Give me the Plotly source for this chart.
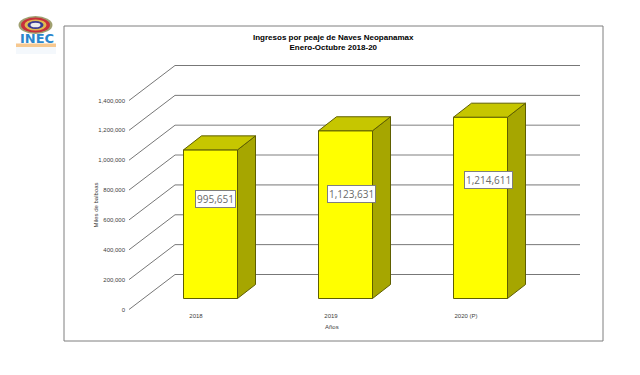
import plotly.graph_objects as go

categories = ["2018", "2019", "2020 (P)"]
values = [995651, 1123631, 1214611]
tick_values = [0, 200000, 400000, 600000, 800000, 1000000, 1200000, 1400000]
title_lines = ["Ingresos por peaje de Naves Neopanamax", "Enero-Octubre 2018-20"]
y_title = "Miles de balboas"
x_title = "Años"
W, H = 640, 375
L, R, T, B = 64, 603, 26, 341   # chart frame in px
X0 = 210.5      # px centre of first bar
XU = 135.0      # px per category
Y0 = 309.5      # px of value 0
YU = 209.0 / 1400000  # px per value unit


def vy(px):
    return (Y0 - px) / YU


def vx(px):
    return (px - X0) / XU


def lx(p):
    return (p - L) / (R - L)


def ly(p):
    return 1 - (p - T) / (B - T)


fig = go.Figure()
dwx, dwy = 46 / XU, 35 / YU     # wall depth
bwx, bwy = 18 / XU, 14 / YU     # bar depth
base = 11 / YU
half = 27 / XU
x_front = vx(129)
x_back = vx(175)
x_end = vx(580)
DARK = "#777777"
LIGHT = "#aaaaaa"
grid_colors = [DARK, DARK, DARK, DARK, LIGHT, LIGHT, DARK, DARK]
grid_widths = [1, 1, 1, 1, 1.6, 1.6, 1, 1]

for t, c, w in zip(tick_values, grid_colors, grid_widths):
    fig.add_trace(go.Scatter(x=[x_front, x_back], y=[t, t + dwy], mode="lines",
                             line=dict(color=DARK, width=1), hoverinfo="skip"))
    fig.add_trace(go.Scatter(x=[x_back, x_end], y=[t + dwy, t + dwy], mode="lines",
                             line=dict(color=c, width=w), hoverinfo="skip"))

EDGE = "#5f5f00"
for i, v in enumerate(values):
    a, b = i - half, i + half
    lo, hi = base, v + base
    fig.add_trace(go.Scatter(x=[a, b, b, a, a], y=[lo, lo, hi, hi, lo], mode="lines", fill="toself",
                             fillcolor="#ffff00", line=dict(color=EDGE, width=1), hoverinfo="skip"))
    fig.add_trace(go.Scatter(x=[b, b + bwx, b + bwx, b, b], y=[lo, lo + bwy, hi + bwy, hi, lo], mode="lines",
                             fill="toself", fillcolor="#a6a600", line=dict(color=EDGE, width=1), hoverinfo="skip"))
    fig.add_trace(go.Scatter(x=[a, b, b + bwx, a + bwx, a], y=[hi, hi, hi + bwy, hi + bwy, hi], mode="lines",
                             fill="toself", fillcolor="#c6c600", line=dict(color=EDGE, width=1), hoverinfo="skip"))

label_dx = [5, 6, 7.5]
label_fy = [0.672, 0.623, 0.654]
ann = []
for i, v in enumerate(values):
    ann.append(dict(x=i, y=v * label_fy[i] + base, xshift=label_dx[i], text=f"{v:,}", showarrow=False,
                    xanchor="center", yanchor="middle",
                    font=dict(family="Open Sans, DejaVu Sans", size=10, color="#6a6a6a"), bgcolor="#ffffff",
                    bordercolor="#7f7f7f", borderwidth=1, borderpad=1))
ann.append(dict(xref="paper", yref="paper", x=lx(333.5), y=ly(42), text="<b>" + "<br>".join(title_lines) + "</b>",
                showarrow=False, xanchor="center", yanchor="middle",
                font=dict(family="Liberation Sans, Arial", size=8, color="#000000")))
ann.append(dict(xref="paper", yref="paper", x=lx(95.5), y=ly(205), text=y_title, textangle=-90, showarrow=False,
                xanchor="center", yanchor="middle", font=dict(family="Liberation Sans", size=6, color="#404040")))
ann.append(dict(xref="paper", yref="paper", x=lx(331.5), y=ly(326.5), text=x_title, showarrow=False,
                xanchor="center", yanchor="middle", font=dict(family="Liberation Sans", size=6, color="#404040")))

# logo
shapes = []
for (rx, ry, col) in [(17, 9, "#a0a070"), (14.5, 7.5, "#c8303a"), (11, 5.5, "#e0b850"), (8, 4, "#3a3a90"), (5, 2.3, "#ececec")]:
    shapes.append(dict(type="circle", xref="paper", yref="paper", x0=lx(35.5 - rx), x1=lx(35.5 + rx),
                       y0=ly(25 + ry), y1=ly(25 - ry), fillcolor=col, line_width=0))
shapes.append(dict(type="rect", xref="paper", yref="paper", x0=lx(16), x1=lx(56), y0=ly(47), y1=ly(43.5),
                   fillcolor="#f6c890", line_width=0))
shapes.append(dict(type="rect", xref="paper", yref="paper", x0=lx(16), x1=lx(56), y0=ly(54), y1=ly(47),
                   fillcolor="#f4f8fc", line_width=0))
ann.append(dict(xref="paper", yref="paper", x=lx(37), y=ly(39), text="<b>INEC</b>", showarrow=False,
                xanchor="center", yanchor="middle",
                font=dict(family="DejaVu Sans", size=13, color="#2a86cc")))

fig.update_layout(
    width=W, height=H, autosize=False, showlegend=False,
    paper_bgcolor="#ffffff", plot_bgcolor="#ffffff",
    margin=dict(l=L, r=W - R, t=T, b=H - B),
    annotations=ann, shapes=shapes,
    font=dict(family="Liberation Sans"),
    xaxis=dict(range=[vx(L), vx(R)], tickvals=[i + vx(196) for i in range(3)], ticktext=categories,
               showgrid=False, zeroline=False, showline=False, ticks="", anchor="free",
               position=ly(311), side="bottom", tickfont=dict(size=6, color="#404040"), fixedrange=True),
    yaxis=dict(range=[vy(B), vy(T)], tickvals=tick_values, tickformat=",d", showgrid=False, zeroline=False,
               showline=False, ticks="", anchor="free", position=lx(125), side="left",
               tickfont=dict(size=6, color="#404040"), fixedrange=True),
)
fig.add_shape(type="rect", xref="paper", yref="paper", x0=0, x1=1, y0=0, y1=1,
              line=dict(color="#7f7f7f", width=1), fillcolor="rgba(0,0,0,0)")
fig.write_html("out.html", config=dict(displayModeBar=False),
               post_script="document.body.style.margin='0';")
